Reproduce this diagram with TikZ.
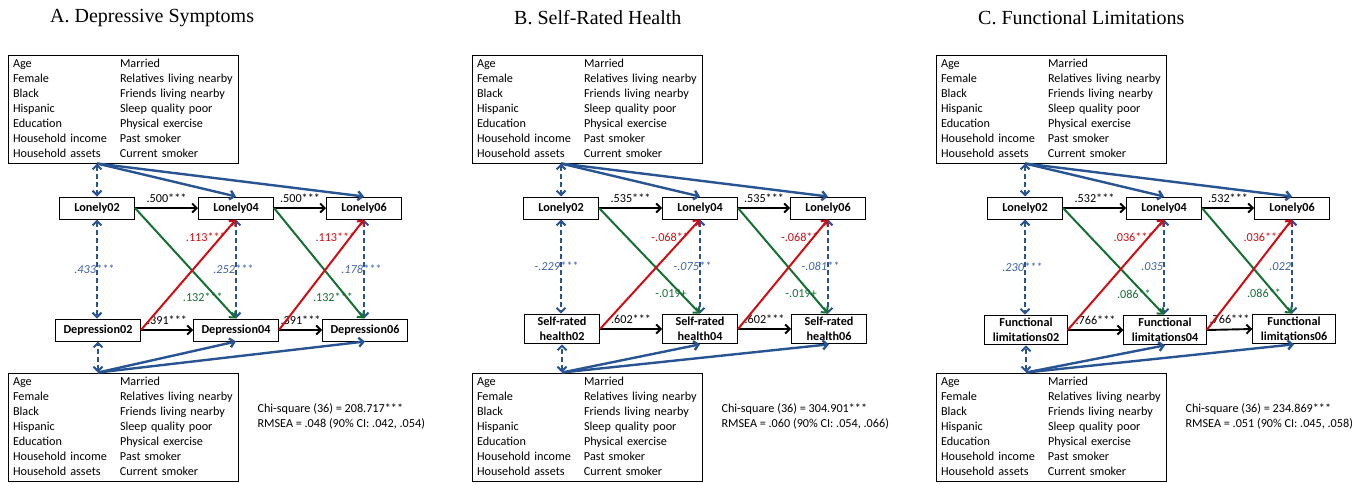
\documentclass[tikz,border=0pt]{standalone}
\usepackage{fontspec}
\setmainfont{Carlito}
\newfontfamily\titlefont{Liberation Serif}
\usepackage{xcolor}
\definecolor{pathblue}{rgb}{0.16, 0.33, 0.58}
\definecolor{labelblue}{rgb}{0.24, 0.38, 0.66}
\definecolor{crossred}{rgb}{0.82, 0.05, 0.08}
\definecolor{crossgreen}{rgb}{0.08, 0.44, 0.20}
\usepackage{tikz}
\usetikzlibrary{arrows.meta,calc}
\newcommand{\sz}{\fontsize{12.2}{15}\selectfont}
\tikzset{
  >={Straight Barb[length=4.5pt,width=9pt]},
  title/.style={font=\titlefont\fontsize{20}{24}\selectfont,anchor=west,inner sep=0pt},
  covbox/.style={rectangle,draw,line width=1pt,text width=220pt,inner xsep=5pt,inner ysep=1.5pt,font=\sz},
  var/.style={rectangle,draw,line width=1pt,minimum width=75pt,minimum height=22pt,inner xsep=8pt,inner ysep=3pt,align=center,font=\sz\bfseries},
  fitinfo/.style={anchor=west,align=left,font=\sz},
  auto/.style={->,line width=1.9pt},
  cov/.style={->,line width=2.4pt,draw=pathblue},
  corr/.style={<->,line width=2pt,draw=pathblue,dash pattern=on 5pt off 3pt},
  toLonely/.style={->,line width=2pt,draw=crossred},
  fromLonely/.style={->,line width=2pt,draw=crossgreen},
  coef/.style={midway,above=3.5pt,inner sep=1pt,font=\sz},
  redcoef/.style={pos=0.84,anchor=east,xshift=6pt,inner sep=0pt,text=crossred,font=\sz},
  greencoef/.style={pos=0.81,anchor=east,xshift=7pt,inner sep=0pt,text=crossgreen,font=\sz},
  corrcoef/.style={midway,anchor=east,inner sep=0pt,text=labelblue,font=\sz\itshape}
}
\newcommand{\covlist}{%
  \begin{tabular}{@{}p{107pt}@{}l@{}}
    Age & Married\\
    Female & Relatives living nearby\\
    Black & Friends living nearby\\
    Hispanic & Sleep quality poor\\
    Education & Physical exercise\\
    Household income & Past smoker\\
    Household assets & Current smoker
  \end{tabular}}

\begin{document}
\begin{tikzpicture}[x=1pt,y=-1pt]
  \useasboundingbox (0,0) rectangle (1352,483);

  % A. Depressive Symptoms
  \node[title] (atitle) at (50,18) {A. Depressive Symptoms};
  \node[covbox] (atop) at (123,109) {\covlist};
  \node[var] (aL02) at (97,208) {Lonely02};
  \node[var] (aL04) at (236,208) {Lonely04};
  \node[var] (aL06) at (364,208) {Lonely06};
  \node[var] (aY02) at (98,330) {Depression02};
  \node[var] (aY04) at (236,330) {Depression04};
  \node[var] (aY06) at (365,330) {Depression06};
  \node[covbox] (abot) at (123,427) {\covlist};
  \node[fitinfo] (achi) at (254,416) {Chi-square (36) = 208.717***\\RMSEA = .048 (90\% CI: .042, .054)};

  \draw[corr] (atop.south -| aL02) -- (aL02.north);
  \draw[cov] (atop.south -| aL02) -- (aL04.north);
  \draw[cov] (atop.south -| aL02) -- (aL06.north);
  \draw[auto] (aL02.east) -- node[coef] {.500***} (aL04.west);
  \draw[auto] (aL04.east) -- node[coef] {.500***} (aL06.west);
  \draw[auto] (aY02.east) -- node[coef] {.391***} (aY04.west);
  \draw[auto] (aY04.east) -- node[coef] {.391***} (aY06.west);
  \draw[corr] (aL02.south) -- node[corrcoef] {.433\rlap{***}} (aL02.south |- aY02.north);
  \draw[corr] (aL04.south) -- node[corrcoef] {.252\rlap{***}} (aL04.south |- aY04.north);
  \draw[corr] (aL06.south) -- node[corrcoef] {.178\rlap{***}} (aL06.south |- aY06.north);
  \draw[fromLonely] (aL02.east) -- node[greencoef] {.132***} (aL04.south |- aY04.north);
  \draw[fromLonely] (aL04.east) -- node[greencoef] {.132***} (aL06.south |- aY06.north);
  \draw[toLonely] (aY02.east) -- node[redcoef] {.113***} (aL04.south);
  \draw[toLonely] (aY04.east) -- node[redcoef] {.113***} (aL06.south);
  \draw[corr] (abot.north -| aY02) -- (aY02.south);
  \draw[cov] (abot.north -| aY02) -- (aY04.south);
  \draw[cov] (abot.north -| aY02) -- (aY06.south);

  % B. Self-Rated Health
  \begin{scope}[xshift=464pt]
  \node[title] (btitle) at (50,18) {B. Self-Rated Health};
  \node[covbox] (btop) at (123,109) {\covlist};
  \node[var] (bL02) at (97,208) {Lonely02};
  \node[var] (bL04) at (236,208) {Lonely04};
  \node[var] (bL06) at (364,208) {Lonely06};
  \node[var] (bY02) at (98,329) {Self-rated\\health02};
  \node[var] (bY04) at (236,329) {Self-rated\\health04};
  \node[var] (bY06) at (365,329) {Self-rated\\health06};
  \node[covbox] (bbot) at (123,427) {\covlist};
  \node[fitinfo] (bchi) at (254,416) {Chi-square (36) = 304.901***\\RMSEA = .060 (90\% CI: .054, .066)};

  \draw[corr] (btop.south -| bL02) -- (bL02.north);
  \draw[cov] (btop.south -| bL02) -- (bL04.north);
  \draw[cov] (btop.south -| bL02) -- (bL06.north);
  \draw[auto] (bL02.east) -- node[coef] {.535***} (bL04.west);
  \draw[auto] (bL04.east) -- node[coef] {.535***} (bL06.west);
  \draw[auto] (bY02.east) -- node[coef] {.602***} (bY04.west);
  \draw[auto] (bY04.east) -- node[coef] {.602***} (bY06.west);
  \draw[corr] (bL02.south) -- node[corrcoef] {-.229\rlap{***}} (bL02.south |- bY02.north);
  \draw[corr] (bL04.south) -- node[corrcoef] {-.075\rlap{**}} (bL04.south |- bY04.north);
  \draw[corr] (bL06.south) -- node[corrcoef] {-.081\rlap{**}} (bL06.south |- bY06.north);
  \draw[fromLonely] (bL02.east) -- node[greencoef] {-.019+} (bL04.south |- bY04.north);
  \draw[fromLonely] (bL04.east) -- node[greencoef] {-.019+} (bL06.south |- bY06.north);
  \draw[toLonely] (bY02.east) -- node[redcoef] {-.068**} (bL04.south);
  \draw[toLonely] (bY04.east) -- node[redcoef] {-.068**} (bL06.south);
  \draw[corr] (bbot.north -| bY02) -- (bY02.south);
  \draw[cov] (bbot.north -| bY02) -- (bY04.south);
  \draw[cov] (bbot.north -| bY02) -- (bY06.south);
  \end{scope}

  % C. Functional Limitations
  \begin{scope}[xshift=928pt]
  \node[title] (ctitle) at (50,18) {C. Functional Limitations};
  \node[covbox] (ctop) at (123,109) {\covlist};
  \node[var] (cL02) at (97,208) {Lonely02};
  \node[var] (cL04) at (236,208) {Lonely04};
  \node[var] (cL06) at (364,208) {Lonely06};
  \node[var] (cY02) at (98,330) {Functional\\limitations02};
  \node[var] (cY04) at (237,330) {Functional\\limitations04};
  \node[var] (cY06) at (366,329) {Functional\\limitations06};
  \node[covbox] (cbot) at (123,427) {\covlist};
  \node[fitinfo] (cchi) at (254,416) {Chi-square (36) = 234.869***\\RMSEA = .051 (90\% CI: .045, .058)};

  \draw[corr] (ctop.south -| cL02) -- (cL02.north);
  \draw[cov] (ctop.south -| cL02) -- (cL04.north);
  \draw[cov] (ctop.south -| cL02) -- (cL06.north);
  \draw[auto] (cL02.east) -- node[coef] {.532***} (cL04.west);
  \draw[auto] (cL04.east) -- node[coef] {.532***} (cL06.west);
  \draw[auto] (cY02.east) -- node[coef] {.766***} (cY04.west);
  \draw[auto] (cY04.east) -- node[coef] {.766***} (cY06.west);
  \draw[corr] (cL02.south) -- node[corrcoef] {.230\rlap{***}} (cL02.south |- cY02.north);
  \draw[corr] (cL04.south) -- node[corrcoef] {.035} (cL04.south |- cY04.north);
  \draw[corr] (cL06.south) -- node[corrcoef] {.022} (cL06.south |- cY06.north);
  \draw[fromLonely] (cL02.east) -- node[greencoef] {.086**} (cL04.south |- cY04.north);
  \draw[fromLonely] (cL04.east) -- node[greencoef] {.086**} (cL06.south |- cY06.north);
  \draw[toLonely] (cY02.east) -- node[redcoef] {.036***} (cL04.south);
  \draw[toLonely] (cY04.east) -- node[redcoef] {.036***} (cL06.south);
  \draw[corr] (cbot.north -| cY02) -- (cY02.south);
  \draw[cov] (cbot.north -| cY02) -- (cY04.south);
  \draw[cov] (cbot.north -| cY02) -- (cY06.south);
  \end{scope}
\end{tikzpicture}
\end{document}
